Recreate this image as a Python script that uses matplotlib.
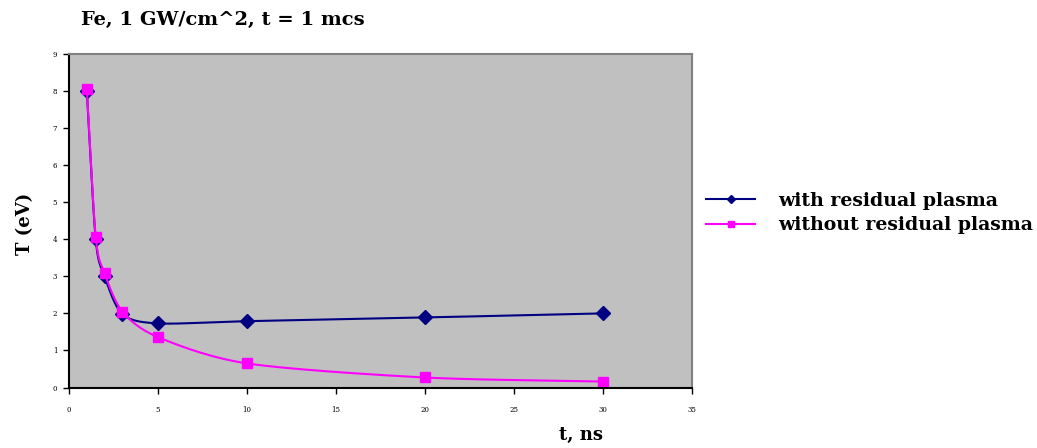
import numpy as np
import matplotlib.pyplot as plt

t_ns = [1, 1.5, 2, 3, 5, 10, 20, 30]
T_with = [8.0, 4.0, 3.0, 1.98, 1.73, 1.79, 1.89, 2.0]
T_without = [8.05, 4.07, 3.08, 2.05, 1.36, 0.65, 0.27, 0.16]

x_ticks = [0, 5, 10, 15, 20, 25, 30, 35]
y_ticks = [0, 1, 2, 3, 4, 5, 6, 7, 8, 9]


def smooth(x, y, n=30, k=0.85):
    # catmull-rom, как сглаженная линия в Excel (k - натяжение)
    x = np.asarray(x, float)
    y = np.asarray(y, float)
    px = np.concatenate([[2 * x[0] - x[1]], x, [2 * x[-1] - x[-2]]])
    py = np.concatenate([[2 * y[0] - y[1]], y, [2 * y[-1] - y[-2]]])
    xs, ys = [], []
    s = np.linspace(0, 1, n)
    for i in range(1, len(px) - 2):
        for p, out in ((px, xs), (py, ys)):
            p0, p1, p2, p3 = p[i - 1], p[i], p[i + 1], p[i + 2]
            m1 = k * (p2 - p0) / 2 / 3
            m2 = k * (p3 - p1) / 2 / 3
            c = ((1 - s) ** 3 * p1 + 3 * (1 - s) ** 2 * s * (p1 + m1)
                 + 3 * (1 - s) * s ** 2 * (p2 - m2) + s ** 3 * p2)
            out.extend(c)
    return xs, ys


plt.rcParams['font.family'] = ['DejaVu Serif']

fig = plt.figure(figsize=(10.37, 4.48), dpi=100)
ax = fig.add_axes([69 / 1037, 60.5 / 448, 623 / 1037, 333.5 / 448])
ax.set_facecolor('#c0c0c0')

xs, ys = smooth(t_ns, T_with)
ax.plot(xs, ys, color='#000080', lw=1.5)
ax.plot(t_ns, T_with, ls='none', marker='D', ms=7, color='#000080')
xs, ys = smooth(t_ns, T_without)
ax.plot(xs, ys, color='#ff00ff', lw=1.5)
ax.plot(t_ns, T_without, ls='none', marker='s', ms=7, color='#ff00ff')

# линии для легенды
ax.plot([], [], color='#000080', lw=1.5, marker='D', ms=4, label='with residual plasma')
ax.plot([], [], color='#ff00ff', lw=1.5, marker='s', ms=4, label='without residual plasma')

ax.set_xlim(0, 35)
ax.set_ylim(0, 9)
ax.set_xticks(x_ticks)
ax.set_yticks(y_ticks)
ax.tick_params(labelsize=5, length=4.5, width=1, direction='out')
ax.tick_params(axis='x', pad=9)
ax.tick_params(axis='y', pad=4)
for s in ['left', 'bottom']:
    ax.spines[s].set_color('black')
    ax.spines[s].set_linewidth(1.5)
for s in ['top', 'right']:
    ax.spines[s].set_color('#808080')
    ax.spines[s].set_linewidth(1.5)

fig.text(223 / 1037, 1 - 20 / 448, 'Fe, 1 GW/cm^2, t = 1 mcs', fontsize=14,
         fontweight='bold', va='center', ha='center')
fig.text(25 / 1037, 1 - 224 / 448, 'T (eV)', fontsize=13, fontweight='bold',
         rotation=90, va='center', ha='center')
fig.text(581 / 1037, 1 - 435 / 448, 't, ns', fontsize=13, fontweight='bold',
         va='center', ha='center')

handles, labels = ax.get_legend_handles_labels()
fig.legend(handles[-2:], labels[-2:], loc='center left',
           bbox_to_anchor=(689 / 1037, 1 - 213 / 448), frameon=False,
           prop={'size': 13.6, 'weight': 'bold'}, handlelength=2.6,
           handletextpad=1.2, labelspacing=0.35)

plt.savefig('out.png', dpi=100)
